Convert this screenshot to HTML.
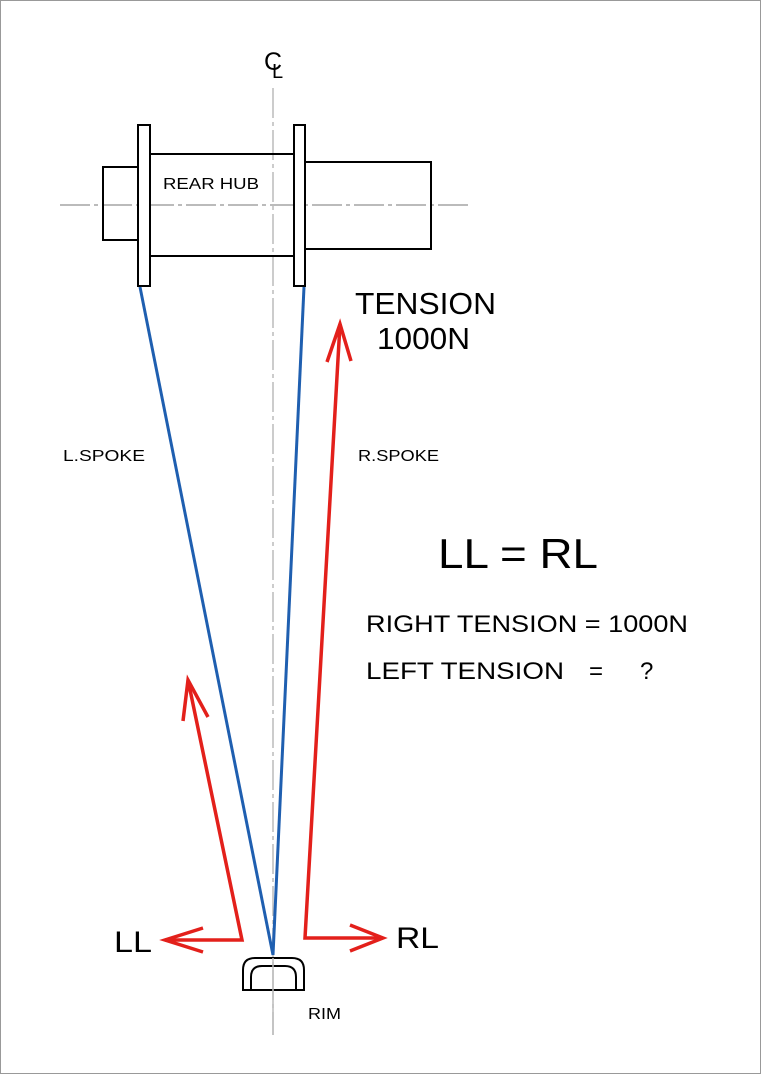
<!DOCTYPE html>
<html><head><style>
html,body{margin:0;padding:0;background:#fff;}
svg{display:block;}
text{font-family:"Liberation Sans",sans-serif;fill:#000;}
</style></head><body>
<svg width="761" height="1074" viewBox="0 0 761 1074" xmlns="http://www.w3.org/2000/svg">
<rect x="0.5" y="0.5" width="760" height="1073" fill="#fff" stroke="#999" stroke-width="1"/>
<!-- centerlines -->
<line x1="273" y1="88" x2="273" y2="1035" stroke="#bbb" stroke-width="1.5" stroke-dasharray="30,4,4,4"/>
<line x1="60" y1="205" x2="470" y2="205" stroke="#777" stroke-width="1" stroke-dasharray="30,4,4,4"/>
<!-- hub -->
<g fill="none" stroke="#000" stroke-width="2">
<rect x="103" y="167" width="35" height="73"/>
<rect x="150" y="154" width="144" height="102"/>
<rect x="305" y="162" width="126" height="87"/>
<rect x="138" y="125" width="12" height="161" fill="#fff"/>
<rect x="294" y="125" width="11" height="161" fill="#fff"/>
</g>
<text x="163" y="189" font-size="16" textLength="96" lengthAdjust="spacingAndGlyphs">REAR HUB</text>
<text x="264" y="70" font-size="25">C</text>
<text x="272" y="78" font-size="20">L</text>
<!-- spokes -->
<line x1="140" y1="287" x2="273" y2="955" stroke="#1f5fb0" stroke-width="3"/>
<line x1="304" y1="287" x2="273" y2="955" stroke="#1f5fb0" stroke-width="3"/>
<!-- red arrows -->
<g fill="none" stroke="#e3201b" stroke-width="3.5" stroke-linejoin="miter">
<polyline points="340,324 305,938 383,938"/>
<polyline points="327,362 340,324 351,361"/>
<polyline points="350,925 383,938 350,951"/>
<polyline points="188,680 242,940 165,940"/>
<polyline points="183,721 188,680 208,717"/>
<polyline points="203,928 165,940 203,952"/>
</g>
<!-- rim -->
<path d="M243,990 V970 Q243,958 255,958 H292 Q304,958 304,970 V990 Z" fill="none" stroke="#000" stroke-width="2"/>
<path d="M251,990 V977 Q251,966 262,966 H285 Q296,966 296,977 V990" fill="none" stroke="#000" stroke-width="2"/>
<line x1="273" y1="958" x2="273" y2="1035" stroke="#bbb" stroke-width="1.5"/>
<!-- labels -->
<text x="355" y="314" font-size="31" textLength="141" lengthAdjust="spacingAndGlyphs">TENSION</text>
<text x="377" y="349" font-size="31" textLength="93" lengthAdjust="spacingAndGlyphs">1000N</text>
<text x="63" y="461" font-size="16" textLength="82" lengthAdjust="spacingAndGlyphs">L.SPOKE</text>
<text x="358" y="461" font-size="16" textLength="81" lengthAdjust="spacingAndGlyphs">R.SPOKE</text>
<text x="438" y="568" font-size="42" textLength="160" lengthAdjust="spacingAndGlyphs">LL = RL</text>
<text x="366" y="632" font-size="24" textLength="322" lengthAdjust="spacingAndGlyphs">RIGHT TENSION = 1000N</text>
<text x="366" y="679" font-size="24" textLength="198" lengthAdjust="spacingAndGlyphs">LEFT TENSION</text>
<text x="589" y="679" font-size="24">=</text>
<text x="640" y="679" font-size="24">?</text>
<text x="114" y="952" font-size="30" textLength="38" lengthAdjust="spacingAndGlyphs">LL</text>
<text x="396" y="948" font-size="30" textLength="43" lengthAdjust="spacingAndGlyphs">RL</text>
<text x="308" y="1019" font-size="16" textLength="33" lengthAdjust="spacingAndGlyphs">RIM</text>
</svg>
</body></html>
